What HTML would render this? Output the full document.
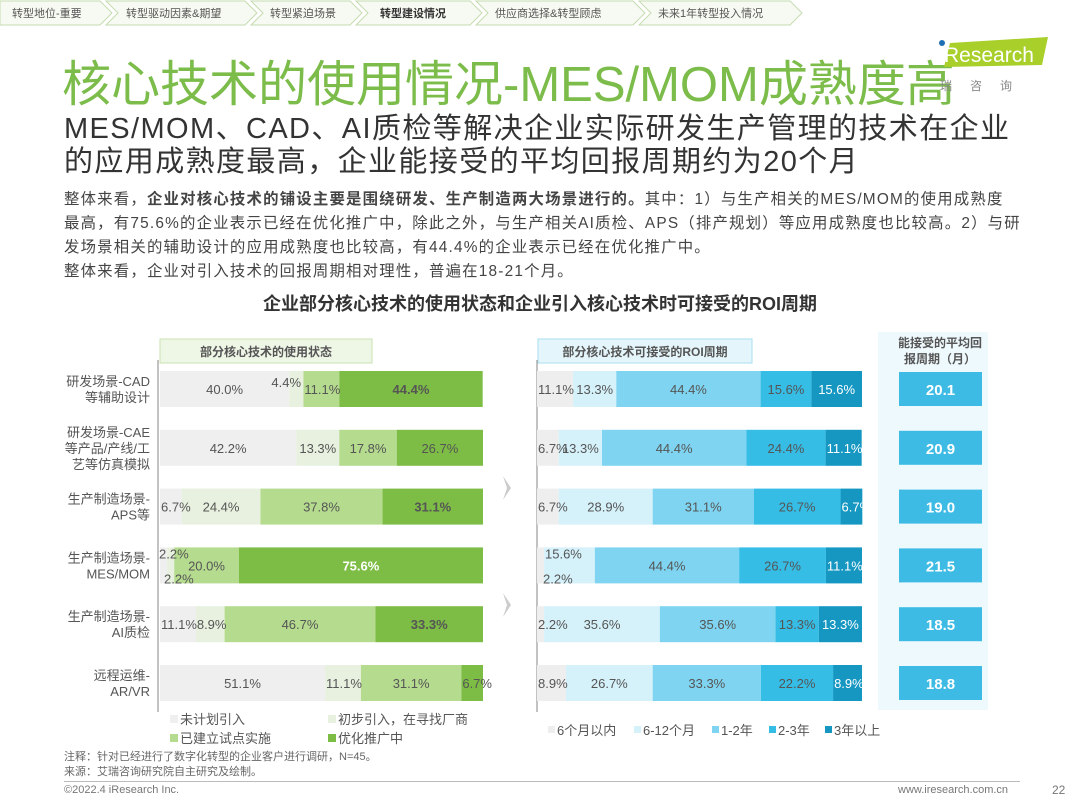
<!DOCTYPE html>
<html><head><meta charset="utf-8">
<style>
*{margin:0;padding:0;box-sizing:border-box}
body{width:1080px;height:810px;background:#fff;position:relative;overflow:hidden;font-family:"Liberation Sans","Noto Sans CJK SC",sans-serif;color:#444}
.abs{position:absolute;white-space:nowrap}
</style></head><body>
<svg class="abs" style="left:0;top:0" width="1080" height="30">
<g fill="#f7faf2" stroke="#c5dbb0" stroke-width="1">
<path d="M0,1 H100 L112,13 L100,25 H0Z"/>
<path d="M106,1 H245 L257,13 L245,25 H106 L118,13Z"/>
<path d="M251,1 H350 L362,13 L350,25 H251 L263,13Z"/>
<path d="M356,1 H470 L482,13 L470,25 H356 L368,13Z"/>
<path d="M476,1 H633 L645,13 L633,25 H476 L488,13Z"/>
<path d="M639,1 H790 L802,13 L790,25 H639 L651,13Z"/>
</g>
<g font-size="11" fill="#555" font-family="Liberation Sans,Noto Sans CJK SC,sans-serif">
<text x="12" y="17">转型地位-重要</text>
<text x="126" y="17">转型驱动因素&amp;期望</text>
<text x="270" y="17">转型紧迫场景</text>
<text x="380" y="17" font-weight="bold" fill="#333">转型建设情况</text>
<text x="495" y="17">供应商选择&amp;转型顾虑</text>
<text x="658" y="17">未来1年转型投入情况</text>
</g>
</svg>
<div class="abs" style="left:62px;top:45px;font-size:49px;color:#7cbc4a;letter-spacing:0px">核心技术的使用情况-MES/MOM成熟度高</div>
<svg class="abs" style="left:930px;top:35px" width="130" height="60">
<polygon points="20,8 118,2 112,30 14,32" fill="#a8cf2a"/>
<circle cx="12" cy="8" r="3" fill="#1f6fb5"/>
<text x="14" y="27" font-size="21" fill="#fff" font-family="Liberation Sans,sans-serif">Research</text>
<text x="10" y="55" font-size="12" fill="#888" letter-spacing="18" font-family="Noto Sans CJK SC,sans-serif">瑞咨询</text>
</svg>
<div class="abs" style="left:64px;top:113px;font-size:29px;line-height:33px;color:#333;letter-spacing:1.4px">MES/MOM、CAD、AI质检等解决企业实际研发生产管理的技术在企业<br>的应用成熟度最高，企业能接受的平均回报周期约为20个月</div>
<div class="abs" style="left:64px;top:188px;font-size:15.4px;line-height:24px;color:#444;letter-spacing:1.2px">整体来看，<b>企业对核心技术的铺设主要是围绕研发、生产制造两大场景进行的。</b>其中：1）与生产相关的MES/MOM的使用成熟度<br>最高，有75.6%的企业表示已经在优化推广中，除此之外，与生产相关AI质检、APS（排产规划）等应用成熟度也比较高。2）与研<br>发场景相关的辅助设计的应用成熟度也比较高，有44.4%的企业表示已经在优化推广中。<br>整体来看，企业对引入技术的回报周期相对理性，普遍在18-21个月。</div>
<div class="abs" style="left:0;width:1080px;text-align:center;top:290px;font-size:18px;font-weight:bold;color:#333">企业部分核心技术的使用状态和企业引入核心技术时可接受的ROI周期</div>

<svg id="chart" class="abs" style="left:0;top:0" width="1080" height="810"></svg>

<div class="abs" style="left:64px;top:750px;font-size:11px;line-height:15px;color:#666">注释：针对已经进行了数字化转型的企业客户进行调研，N=45。<br>来源：艾瑞咨询研究院自主研究及绘制。</div>
<div class="abs" style="left:64px;top:781px;width:956px;border-top:1px solid #bbb"></div>
<div class="abs" style="left:64px;top:784px;font-size:11px;color:#777">©2022.4 iResearch Inc.</div>
<div class="abs" style="left:898px;top:784px;font-size:11px;color:#777">www.iresearch.com.cn</div>
<div class="abs" style="left:1052px;top:783px;font-size:12px;color:#777">22</div>

<script>
const rows=["研发场景-CAD|等辅助设计","研发场景-CAE|等产品/产线/工|艺等仿真模拟","生产制造场景-|APS等","生产制造场景-|MES/MOM","生产制造场景-|AI质检","远程运维-|AR/VR"];
const useNone=[40.0,42.2,6.7,2.2,11.1,51.1];
const useInit=[4.4,13.3,24.4,2.2,8.9,11.1];
const usePilot=[11.1,17.8,37.8,20.0,46.7,31.1];
const usePromo=[44.4,26.7,31.1,75.6,33.3,6.7];
const roi6m=[11.1,6.7,6.7,2.2,2.2,8.9];
const roi12m=[13.3,13.3,28.9,15.6,35.6,26.7];
const roi1to2=[44.4,44.4,31.1,44.4,35.6,33.3];
const roi2to3=[15.6,24.4,26.7,26.7,13.3,22.2];
const roi3plus=[15.6,11.1,6.7,11.1,13.3,8.9];
const avgMonths=[20.1,20.9,19.0,21.5,18.5,18.8];
const useNames=["未计划引入","初步引入，在寻找厂商","已建立试点实施","优化推广中"];
const roiNames=["6个月以内","6-12个月","1-2年","2-3年","3年以上"];

const svg=document.getElementById('chart');
const NS='http://www.w3.org/2000/svg';
function mk(tag,a,txt){const e=document.createElementNS(NS,tag);for(const k in a)e.setAttribute(k,a[k]);if(txt!=null)e.textContent=txt;svg.appendChild(e);return e;}
const rowY=i=>389+i*58.8;
const BH=36;
const LX0=160,LX1=483,RX0=537,RX1=862;
const lx=v=>LX0+v/100*(LX1-LX0);
const rx=v=>RX0+v/100*(RX1-RX0);

let e=mk('rect',{x:160,y:339,width:212,height:24,fill:'#eef6e6',stroke:'#c9e2b2'});


mk('text',{x:266,y:356,'text-anchor':'middle','font-size':12,'font-weight':'bold',fill:'#555'},'部分核心技术的使用状态');
e=mk('rect',{x:538,y:339,width:214,height:24,fill:'#e4f6fc',stroke:'#a9def0'});


mk('text',{x:645,y:356,'text-anchor':'middle','font-size':12,'font-weight':'bold',fill:'#555'},'部分核心技术可接受的ROI周期');
e=mk('rect',{x:878,y:332,width:110,height:378,fill:'#eef9fd'});


mk('text',{x:940,y:347,'text-anchor':'middle','font-size':12,'font-weight':'bold',fill:'#555'},'能接受的平均回');
mk('text',{x:940,y:363,'text-anchor':'middle','font-size':12,'font-weight':'bold',fill:'#555'},'报周期（月）');
mk('line',{x1:158,y1:360,x2:158,y2:712,stroke:'#999','stroke-width':1.2});
mk('line',{x1:537,y1:360,x2:537,y2:712,stroke:'#999','stroke-width':1.2});
[488,605].forEach(y=>{mk('path',{d:`M503,${y-12} L511,${y} L503,${y+12} L507,${y}Z`,fill:'#ccc'});});

const useSeries=[useNone,useInit,usePilot,usePromo];
const useCols=['#efefef','#e8f1df','#b5db8f','#7dbd45'];
const roiSeries=[roi6m,roi12m,roi1to2,roi2to3,roi3plus];
const roiCols=['#eeeeee','#d5f1fa','#7fd5f1','#35bde6','#1597c2'];
const labels=[];

rows.forEach((r,i)=>{
  const cy=rowY(i);
  const lines=r.split('|');
  lines.forEach((t,j)=>{
    const el=mk('text',{x:150,y:cy+5+(j-(lines.length-1)/2)*16,'text-anchor':'end','font-size':13,fill:'#555'},t);
    
    
  });
  let acc=0;
  useSeries.forEach((s,k)=>{
    const v=s[i];
    const b=mk('rect',{x:lx(acc),y:cy-BH/2,width:lx(acc+v)-lx(acc),height:BH,fill:useCols[k]});
    
    
    let tx=(lx(acc)+lx(acc+v))/2,ty=cy+5,anchor='middle';
    if(i===3&&k<2){anchor='start';tx=k===0?159:164;ty=k===0?cy-7:cy+18;}
    else if(v<5){tx=lx(acc)-3;ty=cy-2;}
    else if(v<12){anchor='start';tx=lx(acc)+1;}
    const bold=k===3&&i!==5&&i!==1;
    labels.push({a:{x:tx,y:ty,'text-anchor':anchor,'font-size':13,fill:(i===3&&k===3)?'#fff':'#555','font-weight':bold?'bold':'normal'},t:v.toFixed(1)+'%',n:'usage-value-label'});
    acc+=v;
  });
  acc=0;
  roiSeries.forEach((s,k)=>{
    const v=s[i];
    const b=mk('rect',{x:rx(acc),y:cy-BH/2,width:rx(acc+v)-rx(acc),height:BH,fill:roiCols[k]});
    
    
    let tx=(rx(acc)+rx(acc+v))/2,ty=cy+5,anchor='middle';
    if(i===3&&k<2){anchor='start';tx=k===0?543:545;ty=k===0?cy+18:cy-7;}
    else if(v<12){anchor='start';tx=rx(acc)+1;}
    labels.push({a:{x:tx,y:ty,'text-anchor':anchor,'font-size':13,fill:k===4?'#fff':'#555'},t:v.toFixed(1)+'%',n:'roi-value-label'});
    acc+=v;
  });
  const bx=mk('rect',{x:899,y:cy-17,width:83,height:34,fill:'#3dbbe4'});
  
  
  const at=mk('text',{x:940.5,y:cy+6,'text-anchor':'middle','font-size':15,'font-weight':'bold',fill:'#fff'},avgMonths[i].toFixed(1));
  
  
});
labels.forEach(l=>{
  const t=mk('text',l.a,l.t);
  
  
});
const lpos=[[170,724],[328,724],[170,743],[328,743]];
useNames.forEach((n,k)=>{
  const r=mk('rect',{x:lpos[k][0],y:lpos[k][1]-9,width:8,height:8,fill:useCols[k]});
  
  
  const t=mk('text',{x:lpos[k][0]+10,y:lpos[k][1],'font-size':13,fill:'#555'},n);
  
  
});
const rpos=[548,634,712,769,825];
roiNames.forEach((n,k)=>{
  const r=mk('rect',{x:rpos[k],y:726,width:7,height:7,fill:roiCols[k]});
  
  
  const t=mk('text',{x:rpos[k]+9,y:735,'font-size':13,fill:'#555'},n);
  
  
});
</script>
</body></html>
